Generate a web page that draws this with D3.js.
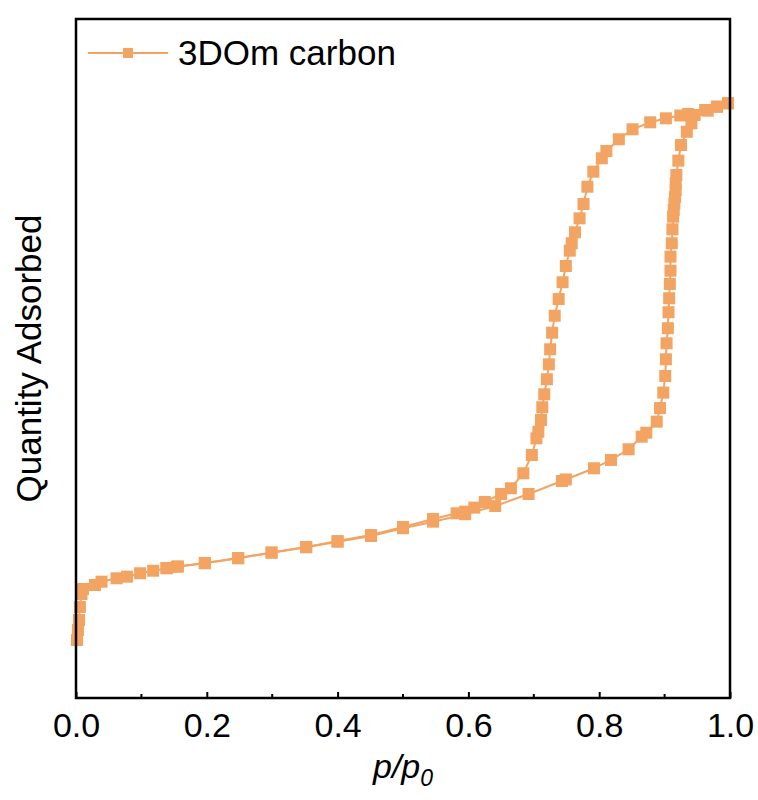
<!DOCTYPE html>
<html>
<head>
<meta charset="utf-8">
<script src="https://cdn.jsdelivr.net/npm/d3@7"></script>
<style>
  body { margin: 0; background: #fff; }
  text { font-family: Arial, "Liberation Sans", sans-serif; }
</style>
</head>
<body>
<div id="chart"></div>
<script>
// adsorption branch (p/p0, quantity, arbitrary units)
const adsP = [0.0015, 0.003, 0.0046, 0.006, 0.0084, 0.0107, 0.029, 0.039, 0.062, 0.078, 0.098, 0.118, 0.139, 0.154, 0.197,
  0.248, 0.299, 0.352, 0.40, 0.451, 0.50, 0.546, 0.595, 0.641, 0.692, 0.743, 0.749, 0.792, 0.818, 0.845, 0.865, 0.872,
  0.888, 0.893, 0.898, 0.901, 0.902, 0.903, 0.905, 0.906, 0.907, 0.908, 0.909, 0.909, 0.911, 0.912, 0.913, 0.914, 0.915,
  0.916, 0.917, 0.917, 0.918, 0.921, 0.925, 0.934, 0.941, 0.946, 0.966, 0.98, 0.997];
const adsQ = [59.8, 70.1, 80.4, 93.8, 107.2, 112.4, 116.5, 119.9, 123.4, 125.1, 128.6, 131.2, 133.7, 135.4, 138.9,
  144.0, 149.8, 155.4, 161.1, 167.0, 175.0, 181.8, 189.5, 197.9, 210.3, 223.7, 225.3, 236.8, 245.4, 256.4, 269.4, 273.5,
  284.9, 298.9, 314.8, 332.0, 349.2, 365.7, 381.2, 397.7, 412.1, 426.8, 440.5, 455.0, 468.8, 483.2, 496.2, 503.1, 510.0,
  516.8, 523.7, 530.6, 539.2, 554.0, 570.1, 583.8, 592.5, 601.0, 605.5, 609.6, 613.1];

// desorption branch
const desP = [0.997, 0.98, 0.962, 0.936, 0.924, 0.902, 0.878, 0.851, 0.83, 0.811, 0.804, 0.791, 0.782, 0.776, 0.77,
  0.763, 0.758, 0.755, 0.749, 0.744, 0.738, 0.732, 0.728, 0.725, 0.723, 0.72, 0.716, 0.713, 0.711, 0.707, 0.704,
  0.697, 0.684, 0.665, 0.65, 0.625, 0.609, 0.595, 0.582, 0.546, 0.50, 0.451, 0.40, 0.352, 0.299, 0.248, 0.197, 0.156, 0.138];
const desQ = [613.1, 609.6, 606.2, 602.1, 600.5, 597.6, 593.5, 586.3, 576.0, 563.9, 556.4, 542.6, 527.1, 509.3, 494.5,
  480.1, 468.8, 461.2, 445.4, 428.6, 411.3, 394.1, 376.6, 359.5, 344.0, 328.6, 313.1, 299.7, 286.6, 274.5, 267.7,
  250.5, 231.7, 216.2, 210.3, 202.1, 196.3, 192.1, 190.4, 184.6, 176.3, 168.0, 161.8, 155.7, 150.0, 144.3, 139.2, 135.6, 134.0];

const xTicks = [0.0, 0.2, 0.4, 0.6, 0.8, 1.0];
const xMinorTicks = [0.1, 0.3, 0.5, 0.7, 0.9];
const seriesName = "3DOm carbon";
const color = "#F3A462";

const width = 758, height = 800;
const margin = { top: 19, right: 28, bottom: 102, left: 76 };

const svg = d3.select("#chart").append("svg")
  .attr("width", width)
  .attr("height", height);

const x = d3.scaleLinear().domain([0, 1]).range([margin.left, width - margin.right]);
const y = d3.scaleLinear().domain([0, 700]).range([height - margin.bottom, margin.top]);

const ads = adsP.map((p, i) => ({ p: p, q: adsQ[i] }));
const des = desP.map((p, i) => ({ p: p, q: desQ[i] }));

const line = d3.line().x(d => x(d.p)).y(d => y(d.q));
const ms = 12;

// lines first, then markers
[ads, des].forEach(data => {
  svg.append("path")
    .datum(data)
    .attr("fill", "none")
    .attr("stroke", color)
    .attr("stroke-width", 2)
    .attr("d", line);
});
[ads, des].forEach(data => {
  svg.append("g").selectAll("rect")
    .data(data)
    .join("rect")
    .attr("x", d => x(d.p) - ms / 2)
    .attr("y", d => y(d.q) - ms / 2)
    .attr("width", ms)
    .attr("height", ms)
    .attr("fill", color);
});

// frame
svg.append("rect")
  .attr("x", margin.left)
  .attr("y", margin.top)
  .attr("width", width - margin.left - margin.right)
  .attr("height", height - margin.top - margin.bottom)
  .attr("fill", "none")
  .attr("stroke", "#000")
  .attr("stroke-width", 2.5);

// x axis, inward ticks
const xAxis = d3.axisBottom(x)
  .tickValues(xTicks)
  .tickFormat(d3.format(".1f"))
  .tickSizeInner(-6)
  .tickSizeOuter(0)
  .tickPadding(15);
const gx = svg.append("g")
  .attr("transform", `translate(0,${height - margin.bottom})`)
  .call(xAxis);
gx.select(".domain").remove();
gx.selectAll(".tick line").attr("stroke", "#000").attr("stroke-width", 2);
gx.selectAll(".tick text")
  .attr("fill", "#000")
  .style("font-size", "34px")
  .attr("dy", "0.71em");

svg.append("g").selectAll("line")
  .data(xMinorTicks)
  .join("line")
  .attr("x1", d => x(d)).attr("x2", d => x(d))
  .attr("y1", height - margin.bottom)
  .attr("y2", height - margin.bottom - 4)
  .attr("stroke", "#000")
  .attr("stroke-width", 2);

// axis titles
const xt = svg.append("text")
  .attr("x", (margin.left + width - margin.right) / 2)
  .attr("y", 778)
  .attr("text-anchor", "middle")
  .style("font-size", "34px")
  .style("font-style", "italic");
xt.append("tspan").text("p/p");
xt.append("tspan").text("0").attr("dy", 8).style("font-size", "23px");

svg.append("text")
  .attr("transform", `translate(41,${(margin.top + height - margin.bottom) / 2}) rotate(-90)`)
  .attr("text-anchor", "middle")
  .style("font-size", "35px")
  .text("Quantity Adsorbed");

// legend
const lg = svg.append("g");
lg.append("line")
  .attr("x1", 88).attr("x2", 168)
  .attr("y1", 53).attr("y2", 53)
  .attr("stroke", color)
  .attr("stroke-width", 2);
lg.append("rect")
  .attr("x", 128 - 5).attr("y", 53 - 5)
  .attr("width", 10).attr("height", 10)
  .attr("fill", color);
lg.append("text")
  .attr("x", 178)
  .attr("y", 65)
  .style("font-size", "35px")
  .text(seriesName);
</script>
</body>
</html>
